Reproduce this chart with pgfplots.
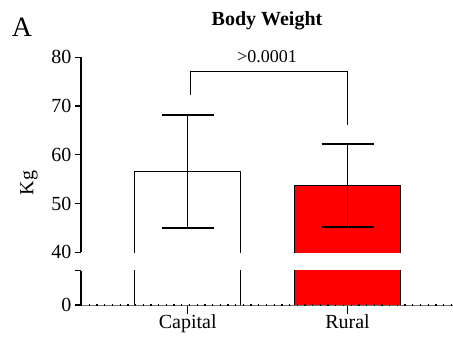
\documentclass[border=0pt]{standalone}
\usepackage{pgfplots}
\pgfplotsset{compat=1.18}
\usepackage{pgfplotstable}
\usepackage{fontspec}
\setmainfont{Liberation Serif}

\pgfplotstableread{
x mean err
0 56.6 11.6
}\capital
\pgfplotstableread{
x mean err
1 53.7 8.45
}\rural

\begin{document}
\begin{tikzpicture}[x=1bp,y=1bp]
\useasboundingbox (0,0) rectangle (453,345);
\pgfplotsset{
 brk/.style={
  scale only axis, width=372bp,
  xmin=-0.668, xmax=1.660,
  /pgf/number format/assume math mode=true,
  tick align=outside,
  major tick length=6bp,
  ticklabel style={font=\fontsize{20bp}{24bp}\selectfont},
  axis line style={line width=1.2bp, -},
  tick style={line width=1.2bp, black},
 },
 ebar/.style={
  error bars/y dir=both, error bars/y explicit,
  error bars/error bar style={line width=1.3bp, black, draw opacity=1},
  error bars/error mark options={rotate=90, mark size=26bp, line width=2bp, black, draw opacity=1},
 },
 barline/.style={sharp plot, no marks, draw=black, line width=1.2bp, line join=miter},
}
% upper segment
\begin{axis}[brk, at={(81bp,92.7bp)}, anchor=south west, height=195bp,
  ymin=40, ymax=80, ytick={40,50,...,80},
  axis x line=none, axis y line*=left]
\addplot[barline, fill=white] coordinates {(-0.3315,0) (-0.3315,56.6) (0.3315,56.6) (0.3315,0)};
\addplot[barline, fill=red] coordinates {(0.6685,0) (0.6685,53.7) (1.3315,53.7) (1.3315,0)};
\addplot[only marks, black, mark=*, mark options={draw opacity=0, fill opacity=0, scale=0.01}, ebar] table[x=x,y=mean,y error=err]{\capital};
\addplot[only marks, black, mark=*, mark options={draw opacity=0, fill opacity=0, scale=0.01}, ebar] table[x=x,y=mean,y error=err]{\rural};
\addplot[sharp plot, no marks, black, line width=1.2bp] coordinates {(0.016,72.3) (0.016,77.05) (1.0,77.05) (1.0,66.1)};
\end{axis}
% lower segment
\begin{axis}[brk, at={(81bp,40bp)}, anchor=south west, height=34.3bp,
  ymin=0, ymax=10, ytick={0,10}, yticklabels={0,{}},
  axis y line*=left, axis x line*=bottom,
  xtick={0,1}, xticklabels={Capital,Rural},
  xtick style={/pgfplots/major tick length=9bp},
  x axis line style={line width=1bp, black!55}]
\addplot[barline, fill=white] coordinates {(-0.3315,0) (-0.3315,56.6) (0.3315,56.6) (0.3315,0)};
\addplot[barline, fill=red] coordinates {(0.6685,0) (0.6685,53.7) (1.3315,53.7) (1.3315,0)};
\end{axis}
\draw[line width=1.6bp, dash pattern=on 1.3bp off 6.4bp] (81,40) -- (453,40);
\node[rotate=90, font=\fontsize{20bp}{24bp}\selectfont] at (29,162) {Kg};
\node[anchor=base, font=\bfseries\fontsize{20bp}{24bp}\selectfont] at (267,319.5) {Body Weight};
\node[anchor=base, font=\fontsize{18bp}{22bp}\selectfont] at (267,283) {>0.0001};
\node[anchor=base west, inner sep=0pt, font=\fontsize{28bp}{32bp}\selectfont] at (11.7,308.3) {A};
\end{tikzpicture}
\end{document}
